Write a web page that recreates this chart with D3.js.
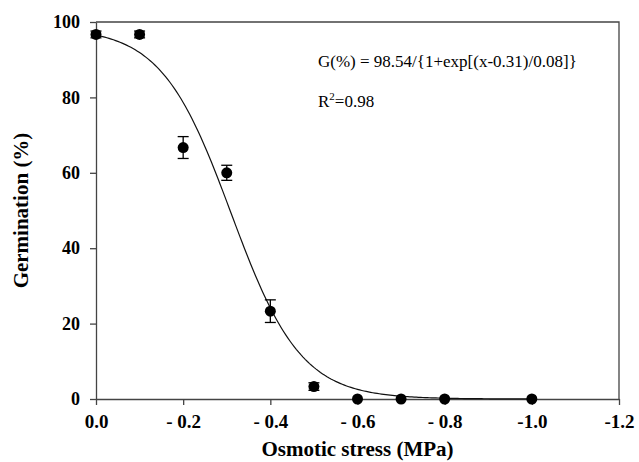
<!DOCTYPE html>
<html>
<head>
<meta charset="utf-8">
<script src="https://cdn.jsdelivr.net/npm/d3@7"></script>
<style>
  body { margin: 0; background: #fff; }
  svg { display: block; }
</style>
</head>
<body>
<svg id="chart"></svg>
<script>
// Data (stress shown as magnitude, labels carry the minus)
const stress = [0.0, 0.1, 0.2, 0.3, 0.4, 0.5, 0.6, 0.7, 0.8, 1.0];
const germination = [96.7, 96.7, 66.7, 60.0, 23.3, 3.3, 0, 0, 0, 0];
const stdErr = [0.9, 0.9, 2.9, 2.0, 3.0, 1.0, 0, 0, 0, 0];

const xTicks = [0, 0.2, 0.4, 0.6, 0.8, 1.0, 1.2];
const xTickLabels = ["0.0", "- 0.2", "- 0.4", "- 0.6", "- 0.8", "-1.0", "-1.2"];
const yTicks = [0, 20, 40, 60, 80, 100];

// fitted sigmoid parameters
const gMax = 98.54, x50 = 0.31, slope = 0.08;

const W = 639, H = 462;
const margin = { top: 22, right: 20, bottom: 63, left: 96 };
const width = W - margin.left - margin.right;
const height = H - margin.top - margin.bottom;

const svg = d3.select("#chart").attr("width", W).attr("height", H);
const g = svg.append("g").attr("transform", `translate(${margin.left},${margin.top})`);

const x = d3.scaleLinear().domain([0, 1.2]).range([0, width]);
const y = d3.scaleLinear().domain([0, 100]).range([height, 0]);

const font = "'Liberation Serif', 'Times New Roman', serif";
const axisColor = "#444";

// frame (top and right)
g.append("path")
  .attr("d", `M0,0H${width}V${height}`)
  .attr("fill", "none")
  .attr("stroke", axisColor)
  .attr("stroke-width", 1.3);

// X axis
const xAxisGroup = g.append("g")
  .attr("transform", `translate(0,${height})`)
  .call(d3.axisBottom(x).tickValues(xTicks).tickSize(6).tickSizeOuter(0)
    .tickFormat((d, i) => xTickLabels[i]));

// Y axis
const yAxisGroup = g.append("g")
  .call(d3.axisLeft(y).tickValues(yTicks).tickSize(6).tickSizeOuter(0));

[xAxisGroup, yAxisGroup].forEach(ax => {
  ax.select(".domain").attr("stroke", axisColor).attr("stroke-width", 1.3);
  ax.selectAll(".tick line").attr("stroke", axisColor).attr("stroke-width", 1.3);
  ax.selectAll("text")
    .attr("fill", "#000")
    .style("font-family", font)
    .style("font-weight", "bold")
    .style("font-size", "18px");
});
xAxisGroup.selectAll("text").attr("dy", "0.95em").attr("y", 11).style("font-size", "19px");
yAxisGroup.selectAll("text").attr("x", -16);

// fitted curve
const curveX = d3.range(0, 1.0001, 0.005);
const line = d3.line()
  .x(d => x(d))
  .y(d => y(gMax / (1 + Math.exp((d - x50) / slope))));
g.append("path")
  .datum(curveX)
  .attr("d", line)
  .attr("fill", "none")
  .attr("stroke", "#111")
  .attr("stroke-width", 1.2);

// error bars
const pts = stress.map((s, i) => ({ s, v: germination[i], e: stdErr[i] }));
const cap = 5.5;
const eb = g.selectAll(".eb")
  .data(pts.filter(d => d.e > 0))
  .enter().append("g")
  .attr("class", "eb")
  .attr("stroke", "#000")
  .attr("stroke-width", 1.3);
eb.append("line")
  .attr("x1", d => x(d.s)).attr("x2", d => x(d.s))
  .attr("y1", d => y(d.v - d.e)).attr("y2", d => y(d.v + d.e));
eb.append("line")
  .attr("x1", d => x(d.s) - cap).attr("x2", d => x(d.s) + cap)
  .attr("y1", d => y(d.v + d.e)).attr("y2", d => y(d.v + d.e));
eb.append("line")
  .attr("x1", d => x(d.s) - cap).attr("x2", d => x(d.s) + cap)
  .attr("y1", d => y(d.v - d.e)).attr("y2", d => y(d.v - d.e));

// points
g.selectAll(".dot")
  .data(pts)
  .enter().append("circle")
  .attr("class", "dot")
  .attr("cx", d => x(d.s))
  .attr("cy", d => y(d.v))
  .attr("r", 5.5)
  .attr("fill", "#000");

// equation
svg.append("text")
  .attr("x", 318).attr("y", 67)
  .style("font-family", font).style("font-size", "17px")
  .text("G(%) = 98.54/{1+exp[(x-0.31)/0.08]}");
const r2 = svg.append("text")
  .attr("x", 318).attr("y", 107)
  .style("font-family", font).style("font-size", "17px");
r2.append("tspan").text("R");
r2.append("tspan").attr("dy", -7).style("font-size", "11px").text("2");
r2.append("tspan").attr("dy", 7).text("=0.98");

// X axis label
svg.append("text")
  .attr("x", margin.left + width / 2)
  .attr("y", 456)
  .attr("text-anchor", "middle")
  .style("font-family", font).style("font-weight", "bold").style("font-size", "21px")
  .text("Osmotic stress (MPa)");

// Y axis label
svg.append("text")
  .attr("transform", "rotate(-90)")
  .attr("x", -(margin.top + height / 2))
  .attr("y", 28)
  .attr("text-anchor", "middle")
  .style("font-family", font).style("font-weight", "bold").style("font-size", "21px")
  .text("Germination (%)");
</script>
</body>
</html>
